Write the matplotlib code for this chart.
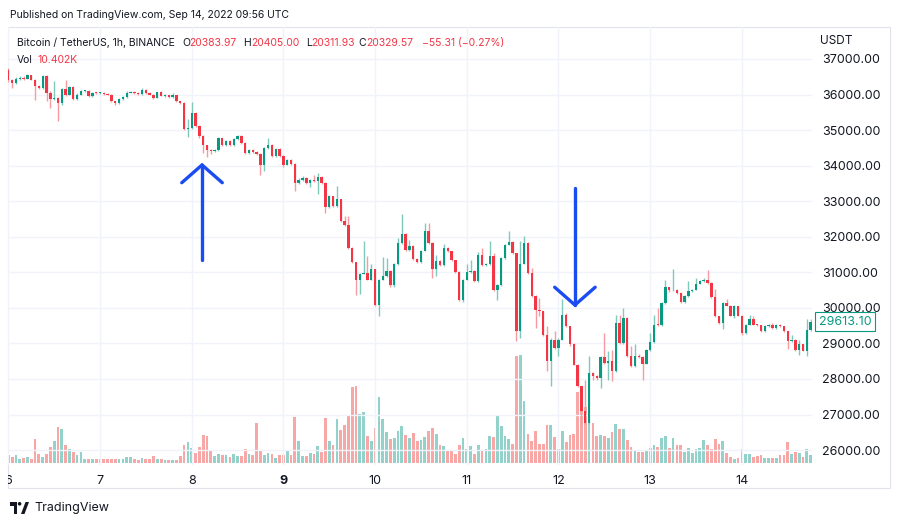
import numpy as np
import matplotlib.pyplot as plt
from matplotlib.patches import Rectangle, Polygon, Circle
from matplotlib.transforms import Affine2D, Bbox

# Bitcoin / TetherUS 1h candles (24 per day, day 6 .. day 14)
first_open = 36680
closes = [
    36420, 36330, 36440, 36470, 36450, 36540, 36420, 36240, 36190, 36520, 36050, 35880,
    35900, 35750, 36160, 36000, 36220, 35880, 36000, 36090, 36100, 35950, 36050, 36040,
    36050, 36020, 36000, 35810, 35760, 35880, 35930, 36050, 36070, 36040, 36020, 36140,
    36050, 36000, 35910, 36060, 35970, 35990, 35930, 35990, 35810, 35770, 35020, 35060,
    35480, 35110, 34830, 34570, 34450, 34400, 34440, 34770, 34590, 34690, 34570, 34750,
    34830, 34640, 34360, 34450, 34380, 34340, 34030, 34500, 34590, 34270, 34470, 34270,
    34030, 34170, 34060, 33500, 33590, 33660, 33510, 33590, 33560, 33680, 33510, 32840,
    33140, 32860, 33050, 32440, 32340, 31690, 31280, 30790, 30960, 30970, 30790, 31080,
    30090, 30790, 30890, 31050, 30630, 31220, 31830, 32090, 31620, 31750, 31380, 31280,
    31610, 32170, 31820, 31080, 31330, 31200, 31690, 31590, 31340, 31010, 30230, 30790,
    31010, 31050, 30750, 31500, 31200, 31230, 31450, 30490, 30630, 31400, 31780, 31860,
    31530, 29340, 31240, 31820, 30980, 30330, 29930, 29900, 29250, 28500, 29110, 28870,
    29110, 29810, 29480, 28970, 28400, 27790, 27090, 26760, 28170, 28070, 28030, 28610,
    28450, 28500, 28220, 29580, 29010, 29720, 28640, 28370, 28660, 28620, 28430, 28820,
    29030, 29530, 29510, 30140, 30580, 30490, 30500, 30420, 30160, 30330, 30470, 30510,
    30680, 30750, 30790, 30700, 30310, 29760, 29580, 30140, 30060, 29780, 30040, 29780,
    29280, 29530, 29690, 29530, 29510, 29340, 29480, 29530, 29430, 29530, 29480, 29340,
    29060, 29110, 28820, 28970, 28800, 29370, 29613.10,
]
highs = [
    36740, 36450, 36480, 36510, 36530, 36580, 36560, 36440, 36280, 36560, 36540, 36090,
    36380, 35930, 36190, 36420, 36250, 36240, 36030, 36120, 36130, 36120, 36080, 36070,
    36080, 36070, 36040, 36020, 35830, 35900, 35960, 36090, 36100, 36090, 36060, 36190,
    36150, 36070, 36020, 36080, 36100, 36020, 36000, 36030, 36000, 35830, 35790, 35300,
    35780, 35500, 35130, 34850, 34590, 34470, 34470, 34800, 34790, 34720, 34710, 34780,
    34870, 34850, 34660, 34480, 34470, 34400, 34360, 34520, 34770, 34610, 34500, 34490,
    34290, 34200, 34190, 34080, 33640, 33700, 33680, 33620, 33750, 33800, 33700, 33530,
    33170, 33160, 33420, 33070, 32580, 32580, 31710, 31300, 30990, 31870, 31470, 31230,
    31100, 30810, 31440, 31400, 31070, 31250, 31970, 32650, 32110, 31900, 31770, 31400,
    31640, 32390, 32390, 31840, 31500, 31350, 31810, 31710, 31610, 31360, 31030, 30820,
    31240, 31360, 31070, 31560, 31690, 31260, 31890, 31550, 30660, 31430, 31810, 32170,
    31880, 31550, 31880, 32010, 31840, 31120, 30350, 30280, 29920, 29480, 29140, 29340,
    29140, 30250, 29860, 29480, 29010, 28420, 27810, 27980, 28640, 28200, 28100, 28640,
    29290, 28780, 28820, 29810, 29810, 30000, 29740, 28920, 28970, 28700, 28650, 28850,
    29290, 29810, 30000, 30170, 30790, 30600, 31080, 30530, 30440, 30360, 30750, 30540,
    30840, 30780, 30840, 31060, 30720, 30530, 29780, 30170, 30250, 30080, 30070, 30060,
    29800, 29560, 29810, 29760, 29550, 29530, 29510, 29560, 29580, 29560, 29550, 29500,
    29360, 29250, 29130, 29110, 28990, 29690, 29690,
]
lows = [
    36360, 36190, 36300, 36420, 36410, 36430, 36400, 35860, 36150, 36170, 35810, 35620,
    35850, 35270, 35720, 35970, 35980, 35850, 35860, 35980, 36060, 35930, 35930, 36010,
    36020, 36000, 35980, 35790, 35720, 35740, 35860, 35910, 36030, 36010, 35990, 36000,
    36020, 35980, 35880, 35900, 35950, 35940, 35910, 35910, 35790, 35740, 34990, 34810,
    35030, 35080, 34790, 34360, 34250, 34330, 34380, 34420, 34560, 34560, 34540, 34550,
    34730, 34620, 34330, 34340, 34360, 34300, 33750, 33840, 34480, 34240, 34240, 34250,
    33960, 34010, 34030, 33280, 33480, 33570, 33480, 33400, 33540, 33190, 33490, 32670,
    32820, 32840, 32840, 32410, 32310, 31660, 31250, 30370, 30400, 30940, 30770, 30770,
    30060, 29760, 30770, 30870, 30600, 30600, 31200, 31810, 31590, 31600, 31350, 31250,
    31260, 31590, 31800, 30840, 30890, 31170, 31180, 31560, 31310, 30980, 30200, 30160,
    30770, 30990, 30720, 30730, 31180, 31170, 31210, 30470, 30230, 30610, 31380, 31760,
    31510, 29060, 29150, 31220, 30950, 30300, 29430, 29760, 29200, 28220, 27790, 28840,
    28640, 29090, 29450, 28940, 28380, 27760, 26670, 26730, 26740, 27980, 27980, 27750,
    28420, 27980, 27930, 28200, 28990, 28990, 28610, 28340, 28350, 28590, 27980, 28410,
    28800, 29010, 29480, 29490, 30120, 30460, 30470, 30390, 30130, 30140, 30310, 30450,
    30490, 30660, 30730, 30680, 30290, 29740, 29550, 29410, 30040, 29760, 29720, 29760,
    29250, 29260, 29510, 29510, 29490, 29320, 29320, 29460, 29410, 29410, 29460, 29320,
    28840, 29040, 28800, 28680, 28780, 28650, 29350,
]
volume = [
    23, 18, 23, 13, 15, 18, 13, 73, 28, 18, 28, 48, 65, 108, 103, 53, 43, 33, 25, 33, 13, 11, 13, 11,
    11, 13, 11, 13, 13, 13, 13, 18, 18, 13, 10, 15, 11, 11, 20, 11, 11, 8, 8, 8, 8, 20, 55, 63,
    45, 31, 48, 85, 81, 35, 21, 28, 25, 23, 18, 26, 20, 20, 43, 26, 25, 120, 40, 23, 30, 28, 15, 25,
    25, 35, 25, 138, 65, 20, 21, 31, 28, 50, 33, 135, 67, 55, 131, 98, 113, 141, 228, 231, 148, 153, 81, 66,
    105, 198, 131, 93, 71, 75, 95, 111, 85, 75, 90, 65, 70, 78, 95, 106, 88, 55, 50, 36, 38, 28, 53, 76,
    43, 50, 28, 53, 36, 43, 81, 78, 140, 111, 81, 73, 58, 320, 325, 186, 88, 65, 96, 58, 58, 113, 113, 78,
    43, 96, 63, 83, 88, 213, 223, 168, 148, 120, 81, 85, 81, 75, 93, 118, 103, 103, 68, 48, 35, 33, 33, 40,
    45, 53, 48, 76, 80, 45, 76, 55, 53, 33, 46, 31, 43, 46, 68, 55, 43, 71, 56, 66, 31, 18, 13, 15,
    41, 26, 26, 18, 20, 23, 15, 15, 15, 15, 23, 23, 63, 26, 33, 31, 18, 43, 25,
]
day_labels = ['6', '7', '8', '9', '10', '11', '12', '13', '14']
candles_per_day = 24
price_ticks = list(range(26000, 37001, 1000))

# hand drawn arrows: (candle position, tail price, tip price)
up_arrow = (50.7, 31350, 34020)
down_arrow = (148.3, 33370, 30080)

header_values = ['20383.97', '20405.00', '20311.93', '20329.57']

GREEN = '#089981'
RED = '#f23645'
TEXT = '#131722'
GRID = '#f0f3fa'
BLUE = '#1b4cf2'
HEAD_FS = 7.5

plt.rcParams['font.family'] = ['Inter', 'DejaVu Sans']

W, H = 900, 525
fig = plt.figure(figsize=(W / 100, H / 100), dpi=100)
px = Affine2D().scale(1.0 / W, -1.0 / H).translate(0, 1) + fig.transFigure

closes = np.array(closes, dtype=float)
opens = np.concatenate([[first_open], closes[:-1]])
idx = np.arange(len(closes))
rising = closes >= opens

rect = [8 / W, 1 - 465 / H, (812 - 8) / W, (465 - 27) / H]
xlim = (-0.08, 210.35)

# volume pane sits behind the price pane
vax = fig.add_axes(rect, zorder=1)
vax.bar(idx, volume, width=0.72, color=np.where(rising, '#93d2ca', '#f7a7a5'), linewidth=0)
vax.set_xlim(*xlim)
vax.set_ylim(-6, 1310)
vax.set_axis_off()

ax = fig.add_axes(rect, zorder=2)
ax.patch.set_visible(False)
ax.set_xlim(*xlim)
ax.set_ylim(25580, 37900)
ax.grid(True, color=GRID, linewidth=1, zorder=0)

# candles
ax.vlines(idx, lows, highs, colors=np.where(rising, '#7fcabd', '#f89aa2'), linewidth=1, zorder=2)
body_low = np.minimum(opens, closes)
body_h = np.maximum(np.abs(closes - opens), 25)
ax.bar(idx, body_h, bottom=body_low, width=0.62, color=np.where(rising, GREEN, RED),
       linewidth=0, zorder=3)

# arrows
for x, tail, tip in (up_arrow, down_arrow):
    head = 500 if tip > tail else -500
    ax.plot([x, x], [tail, tip], color=BLUE, lw=2.4, solid_capstyle='round', zorder=5)
    ax.plot([x - 5.3, x, x + 5.3], [tip - head, tip, tip - head], color=BLUE, lw=2.4,
            solid_capstyle='round', solid_joinstyle='miter', zorder=5)

# axes, ticks
for s in ax.spines.values():
    s.set_visible(False)
ax.yaxis.tick_right()
ax.set_yticks(price_ticks)
ax.set_yticklabels([f'{p:.2f}' for p in price_ticks])
ax.tick_params(axis='y', length=0, pad=7, labelsize=9, labelcolor=TEXT)
ax.set_xticks([candles_per_day * k for k in range(len(day_labels))])
ax.set_xticklabels(day_labels)
ax.tick_params(axis='x', length=0, pad=7, labelsize=9, labelcolor=TEXT)
for lbl in ax.get_xticklabels():
    if lbl.get_text() == '9':
        lbl.set_fontweight('bold')
    lbl.set_clip_box(Bbox([[8, 0], [900, 525]]))
    lbl.set_clip_on(True)

# last price tag
ax.annotate(f'{closes[-1]:.2f}', xy=(1, closes[-1]), xycoords=('axes fraction', 'data'),
            xytext=(5, 0), textcoords='offset points', va='center', ha='left',
            color=GREEN, fontsize=9,
            bbox=dict(boxstyle='square,pad=0.3', fc='white', ec=GREEN, lw=0.8),
            annotation_clip=False, zorder=6)

# frame around chart
fig.add_artist(Rectangle((8, 27), 882, 461, transform=px, fill=False, ec='#e0e3eb', lw=0.8))

# header
fig.text(10, 15, 'Published on TradingView.com, Sep 14, 2022 09:56 UTC', transform=px,
         va='center', ha='left', fontsize=HEAD_FS, color=TEXT)
fig.text(820, 41, 'USDT', transform=px, va='center', ha='left', fontsize=8.5, color=TEXT)
fig.text(17, 43, 'Bitcoin / TetherUS, 1h, BINANCE', transform=px, va='center', ha='left',
         fontsize=HEAD_FS, color=TEXT)
for letter, lx, value, vx in zip('OHLC', [182, 243, 306, 358], header_values, [189, 251, 311, 366]):
    fig.text(lx, 43, letter, transform=px, va='center', ha='left', fontsize=HEAD_FS, color=TEXT)
    fig.text(vx, 43, value, transform=px, va='center', ha='left', fontsize=HEAD_FS, color=RED)
fig.text(422, 43, '\u221255.31 (\u22120.27%)', transform=px, va='center', ha='left',
         fontsize=HEAD_FS, color=RED)
fig.text(17, 60, 'Vol', transform=px, va='center', ha='left', fontsize=HEAD_FS, color=TEXT)
fig.text(37, 60, '10.402K', transform=px, va='center', ha='left', fontsize=HEAD_FS, color=RED)

# footer logo
fig.add_artist(Polygon([(10, 502), (17, 502), (17, 514), (14, 514), (14, 505.5), (10, 505.5)],
                       closed=True, transform=px, fc=TEXT, ec='none'))
fig.add_artist(Circle((19.6, 503.8), 1.8, transform=px, fc=TEXT, ec='none'))
fig.add_artist(Polygon([(21, 514), (25.5, 502), (29, 502), (24.5, 514)],
                       closed=True, transform=px, fc=TEXT, ec='none'))
fig.text(34, 508, 'TradingView', transform=px, va='center', ha='left', fontsize=9, color=TEXT)

fig.savefig('out.png', dpi=100, facecolor='white')
